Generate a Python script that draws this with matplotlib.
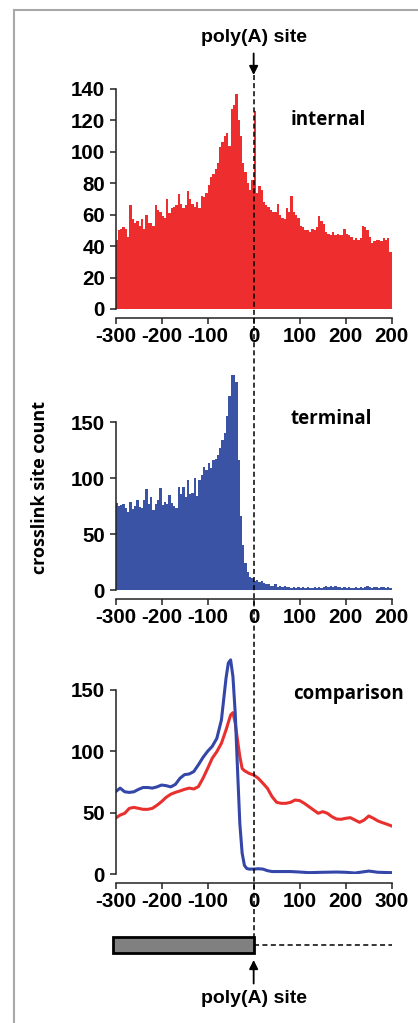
import numpy as np
import matplotlib.pyplot as plt
from matplotlib.lines import Line2D
from matplotlib.patches import Rectangle

# bins of 5 nt, left edges from -300 to 295
bin_width = 5
bin_start = np.arange(-300, 300, bin_width)

internal_counts = [
    44, 50, 51, 52, 51, 46, 66, 57, 55, 56,
    53, 57, 51, 60, 55, 55, 53, 66, 63, 62,
    59, 58, 70, 61, 64, 65, 66, 73, 67, 64,
    66, 75, 70, 67, 65, 68, 64, 72, 71, 74,
    79, 84, 86, 89, 93, 103, 106, 110, 112, 104,
    127, 130, 137, 120, 110, 93, 87, 80, 76, 82,
    126, 74, 78, 76, 68, 66, 65, 63, 62, 62,
    67, 60, 58, 57, 64, 62, 72, 62, 60, 58,
    53, 52, 50, 50, 49, 51, 50, 52, 59, 56,
    54, 49, 48, 47, 49, 47, 48, 47, 47, 51,
    48, 47, 46, 44, 45, 44, 45, 53, 52, 50,
    46, 42, 43, 44, 44, 43, 45, 44, 45, 36,
]

terminal_counts = [
    78, 75, 76, 77, 73, 70, 79, 72, 75, 80,
    74, 73, 80, 90, 77, 83, 71, 77, 80, 91,
    76, 79, 77, 85, 78, 75, 73, 92, 86, 92,
    83, 98, 86, 87, 100, 84, 98, 103, 110, 107,
    113, 109, 116, 117, 121, 127, 134, 140, 155, 173,
    192, 192, 186, 116, 66, 40, 24, 16, 12, 11,
    8, 9, 7, 8, 6, 5, 5, 4, 4, 5,
    3, 4, 3, 4, 3, 3, 2, 3, 2, 3,
    2, 3, 2, 3, 2, 2, 3, 2, 3, 2,
    3, 4, 3, 4, 3, 4, 3, 3, 2, 3,
    2, 3, 2, 2, 3, 2, 3, 2, 3, 4,
    3, 2, 3, 3, 2, 3, 3, 2, 3, 2,
]

# smoothed profiles for the comparison panel
blue_x = [-300, -290, -280, -270, -260, -250, -240, -230, -220, -210, -200,
          -190, -180, -170, -160, -150, -140, -130, -120, -110, -100, -90,
          -80, -70, -60, -55, -50, -45, -40, -35, -30, -25, -20, -15, -10,
          0, 10, 20, 30, 40, 60, 80, 100, 120, 150, 180, 200, 220, 250, 270, 300]
blue_y = [67, 70, 67, 66.5, 67, 69, 70.5, 70.5, 70, 71, 72.5,
          72, 71, 73, 78, 81, 81.5, 83.5, 89, 95, 100, 104,
          110.5, 125.5, 159.5, 172, 174.5, 161, 131, 85, 41, 17, 7, 4.5, 4,
          4, 4.3, 4, 2.7, 2, 2, 2, 1.6, 1.1, 1.4, 1.6, 1.4, 0.8, 2.4, 1.4, 1.1]

red_x = [-300, -290, -280, -270, -260, -250, -240, -230, -220, -210, -200,
         -190, -180, -170, -160, -150, -140, -130, -120, -110, -100, -90,
         -80, -70, -60, -50, -45, -40, -35, -30, -25, -20, -10, 0, 10, 20,
         30, 40, 50, 60, 70, 80, 90, 100, 110, 120, 130, 140, 150, 160, 170,
         180, 190, 200, 210, 220, 230, 240, 250, 260, 270, 280, 290, 300]
red_y = [45.5, 48, 49.5, 53.5, 54.3, 53.5, 52.7, 52.7, 53.5, 56, 59,
         62.5, 65, 66.5, 67.7, 69, 70, 69.3, 71.2, 78, 86, 94.3,
         99.7, 106.5, 117.4, 129.6, 131.5, 123, 109, 95.7, 86, 84.2, 82, 80.7, 78, 74,
         69.8, 63, 58.4, 57.6, 57.6, 58.4, 60.3, 59.8, 57.6, 54.9, 52.2, 49.5, 50.8, 49.5, 46.7,
         44.8, 44.6, 45.4, 45.9, 44, 42.1, 44, 47.3, 45.4, 43.2, 41.8, 40.5, 39.1]

x_ticks = [-300, -200, -100, 0, 100, 200, 300]
hist_tick_labels = ['-300', '-200', '-100', '0', '100', '200', '200']
cmp_tick_labels = ['-300', '-200', '-100', '0', '100', '200', '300']

RED = '#ee2e2e'
BLUE = '#3a53a4'
LINE_RED = '#e8302e'
LINE_BLUE = '#3447a8'
NUM_FONT = 'Liberation Sans'
LABEL_FONT = 'Open Sans'

W, H = 418, 1023
fig = plt.figure(figsize=(W / 100, H / 100), dpi=100)

X0, X1 = 115.5, 391.8


def px_axes(top, bottom):
    return fig.add_axes([X0 / W, 1 - bottom / H, (X1 - X0) / W, (bottom - top) / H])


def style(ax, ylim, yticks, xlabels):
    ax.set_xlim(-300, 300)
    ax.set_ylim(*ylim)
    ax.spines['top'].set_visible(False)
    ax.spines['right'].set_visible(False)
    ax.spines['left'].set_bounds(0, yticks[-1])
    ax.spines['bottom'].set_position(('outward', 6.5))
    ax.spines['bottom'].set_bounds(-300, 300)
    for s in ['left', 'bottom']:
        ax.spines[s].set_linewidth(1.1)
        ax.spines[s].set_color('#222222')
    ax.set_xticks(x_ticks)
    ax.set_xticklabels(xlabels)
    ax.set_yticks(yticks)
    ax.tick_params(length=4.5, width=1.1, color='#222222', labelsize=14.8)
    ax.tick_params(axis='y', pad=3)
    ax.tick_params(axis='x', pad=2)
    for lbl in ax.get_xticklabels() + ax.get_yticklabels():
        lbl.set_fontfamily(NUM_FONT)
        lbl.set_fontweight('bold')


# internal
ax1 = px_axes(89, 309)
ax1.bar(bin_start, internal_counts, width=bin_width, align='edge', color=RED, linewidth=0)
style(ax1, (0, 140), [0, 20, 40, 60, 80, 100, 120, 140], hist_tick_labels)
ax1.text(0.769, 0.86, 'internal', transform=ax1.transAxes, ha='center', va='center',
         fontsize=13.5, fontweight='bold', family=LABEL_FONT)
ax1.annotate('poly(A) site', xy=(0, (309 - 75) / 220), xycoords=('data', 'axes fraction'),
             xytext=(0, (309 - 38) / 220), textcoords=('data', 'axes fraction'),
             ha='center', va='center', fontsize=14, fontweight='bold', family=NUM_FONT,
             arrowprops=dict(arrowstyle='-|>', color='k', lw=1.3, mutation_scale=13,
                             shrinkA=3, shrinkB=0))

# terminal
ax2 = px_axes(375, 590)
ax2.bar(bin_start, terminal_counts, width=bin_width, align='edge', color=BLUE, linewidth=0)
style(ax2, (0, 192), [0, 50, 100, 150], hist_tick_labels)
ax2.text(0.78, 0.795, 'terminal', transform=ax2.transAxes, ha='center', va='center',
         fontsize=13.5, fontweight='bold', family=LABEL_FONT)

# comparison
ax3 = px_axes(655.6, 874)
ax3.plot(red_x, red_y, color=LINE_RED, lw=2.2, solid_joinstyle='round')
ax3.plot(blue_x, blue_y, color=LINE_BLUE, lw=2.2, solid_joinstyle='round')
style(ax3, (0, 178), [0, 50, 100, 150], cmp_tick_labels)
ax3.text(0.845, 0.824, 'comparison', transform=ax3.transAxes, ha='center', va='center',
         fontsize=13.5, fontweight='bold', family=LABEL_FONT)

fig.text(40 / W, 1 - 487 / H, 'crosslink site count', rotation=90, ha='center', va='center',
         fontsize=13, fontweight='bold', family=LABEL_FONT)

# gene model below
ax4 = px_axes(925, 1015)
ax4.set_xlim(-300, 300)
ax4.set_ylim(0, 1)
ax4.axis('off')
ax4.add_patch(Rectangle((-305, 0.689), 305, 0.178, facecolor='#808080',
                        edgecolor='k', lw=2.0, clip_on=False))
ax4.plot([0, 300], [0.778, 0.778], color='k', lw=1.1, ls=(0, (3.3, 2.2)))
ax4.annotate('poly(A) site', xy=(0, 0.611), xytext=(0, 0.178),
             ha='center', va='center', fontsize=14, fontweight='bold', family=NUM_FONT,
             arrowprops=dict(arrowstyle='-|>', color='k', lw=1.3, mutation_scale=13,
                             shrinkA=3, shrinkB=0))

# dashed poly(A) line through all panels
xf = fig.transFigure.inverted().transform(ax1.transData.transform((0, 0)))[0]
fig.add_artist(Line2D([xf, xf], [1 - 75 / H, 1 - 937 / H], transform=fig.transFigure,
                      color='k', lw=1.1, ls=(0, (3.3, 2.0))))

# light frame
fig.add_artist(Line2D([14 / W, 14 / W], [0, 1 - 10 / H], transform=fig.transFigure,
                      color='#a8a8a8', lw=1.5))
fig.add_artist(Line2D([14 / W, 1], [1 - 10 / H, 1 - 10 / H], transform=fig.transFigure,
                      color='#a8a8a8', lw=1.5))

fig.savefig('out.png', dpi=100)
